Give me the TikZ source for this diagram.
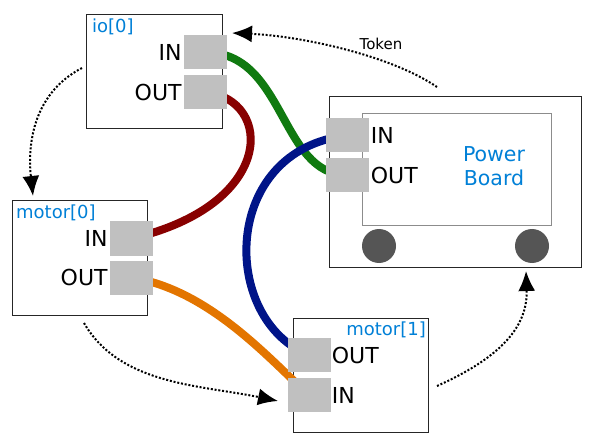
\documentclass[tikz,border=0pt]{standalone}
\usepackage{fontspec}
\setmainfont{DejaVu Sans}
\usetikzlibrary{arrows.meta}
\definecolor{lblblue}{RGB}{0,128,215}
\definecolor{wgreen}{RGB}{16,122,16}
\definecolor{wred}{RGB}{136,0,0}
\definecolor{worange}{RGB}{227,117,0}
\definecolor{wblue}{RGB}{0,20,136}
\definecolor{portgray}{RGB}{192,192,192}
\definecolor{wheelgray}{RGB}{85,85,85}
\begin{document}
\begin{tikzpicture}[x=1pt,y=-1pt,
  box/.style={draw=black!85,line width=1pt,fill=white,inner sep=0pt},
  port/.style={fill=portgray,inner sep=0pt,minimum width=43pt,minimum height=34pt},
  ptext/.style={font=\fontsize{22}{24}\selectfont,inner sep=0pt},
  blbl/.style={font=\fontsize{18}{20}\selectfont,text=lblblue,inner sep=0pt},
  wire/.style={line width=8pt},
  tok/.style={line width=2pt,dash pattern=on 2pt off 1.8pt,-{Latex[length=20pt,width=17pt]}}]
\useasboundingbox (0,0) rectangle (593,443);
% boxes
\node[box,minimum width=136pt,minimum height=114pt] (io) at (154,72) {};
\node[box,minimum width=135pt,minimum height=114pt] (m0) at (79.5,258) {};
\node[box,minimum width=135pt,minimum height=114pt] (m1) at (360.5,375) {};
\node[box,minimum width=252pt,minimum height=170pt] (pb) at (455,182) {};
\node[draw=black!45,line width=1pt,inner sep=0pt,minimum width=189pt,minimum height=112pt] (pbin) at (456.5,170) {};
\node[circle,fill=wheelgray,minimum size=34pt,inner sep=0pt] (w1) at (379,246) {};
\node[circle,fill=wheelgray,minimum size=34pt,inner sep=0pt] (w2) at (532,246) {};
% labels
\node[blbl,anchor=west] (iolbl) at (92,27) {io[0]};
\node[blbl,anchor=west] (m0lbl) at (16,213) {motor[0]};
\node[blbl,anchor=east] (m1lbl) at (426,330) {motor[1]};
\node[font=\fontsize{20.5}{24.5}\selectfont,text=lblblue,align=center,inner sep=0pt] (pblbl) at (494,166) {Power\\Board};
% port coordinates
\coordinate (ioinc) at (205.5,52.5);
\coordinate (iooutc) at (205.5,92);
\coordinate (m0inc) at (131.5,238.5);
\coordinate (m0outc) at (131.5,277.5);
\coordinate (pbinc) at (347,135.5);
\coordinate (pboutc) at (347,175);
\coordinate (m1outc) at (309,355);
\coordinate (m1inc) at (309,395);
% wires
\draw[wire,wgreen] (ioinc) .. controls (285,52) and (280,175) .. (pboutc);
\draw[wire,wred] (iooutc) .. controls (274,100) and (276,205) .. (m0inc);
\draw[wire,worange] (m0outc) .. controls (210,290) and (270,360) .. (m1inc);
\draw[wire,wblue] (pbinc) .. controls (220,150) and (220,320) .. (m1outc);
% ports
\node[port] (ioin) at (ioinc) {};
\node[port] (ioout) at (iooutc) {};
\node[port] (m0in) at (m0inc) {};
\node[port] (m0out) at (m0outc) {};
\node[port] (pbinp) at (pbinc) {};
\node[port] (pboutp) at (pboutc) {};
\node[port] (m1out) at (m1outc) {};
\node[port] (m1in) at (m1inc) {};
% port texts
\node[ptext,anchor=east] (t1) at ([xshift=-2pt]ioin.west) {IN};
\node[ptext,anchor=east] (t2) at ([xshift=-2pt]ioout.west) {OUT};
\node[ptext,anchor=east] (t3) at ([xshift=-2pt]m0in.west) {IN};
\node[ptext,anchor=east] (t4) at ([xshift=-2pt]m0out.west) {OUT};
\node[ptext,anchor=west] (t5) at ([xshift=2pt]pbinp.east) {IN};
\node[ptext,anchor=west] (t6) at ([xshift=2pt]pboutp.east) {OUT};
\node[ptext,anchor=west] (t7) at ([xshift=1pt]m1out.east) {OUT};
\node[ptext,anchor=west] (t8) at ([xshift=1pt]m1in.east) {IN};
% token arrows
\coordinate (a1s) at (82,68);
\coordinate (a1e) at (33,196);
\coordinate (a2s) at (84,323);
\coordinate (a2e) at (278,401);
\coordinate (a3s) at (437,386);
\coordinate (a3e) at (526,271);
\coordinate (a4s) at (437,87);
\coordinate (a4e) at (232,33);
\draw[tok] (a1s) .. controls (30,95) and (28,150) .. (a1e);
\draw[tok] (a2s) .. controls (120,385) and (200,385) .. (a2e);
\draw[tok] (a3s) .. controls (495,360) and (528,330) .. (a3e);
\draw[tok] (a4s) .. controls (390,55) and (300,36) .. (a4e);
\node[font=\fontsize{15}{18}\selectfont,inner sep=0pt] (token) at (381,44) {Token};
\end{tikzpicture}
\end{document}
